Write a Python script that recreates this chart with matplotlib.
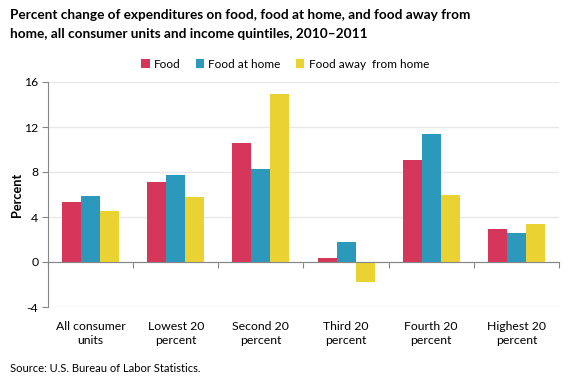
import numpy as np
import matplotlib
matplotlib.use('Agg')
import matplotlib.pyplot as plt
import matplotlib.transforms as mtransforms

plt.rcParams['font.family'] = ['Lato', 'DejaVu Sans']

categories = ['All consumer\nunits', 'Lowest 20\npercent', 'Second 20\npercent',
              'Third 20\npercent', 'Fourth 20\npercent', 'Highest 20\npercent']
series_names = ['Food', 'Food at home', 'Food away  from home']
food = [5.36, 7.14, 10.6, 0.39, 9.1, 2.96]
food_home = [5.9, 7.76, 8.3, 1.81, 11.4, 2.61]
food_away = [4.56, 5.81, 14.96, -1.81, 5.99, 3.41]
yticks = [-4, 0, 4, 8, 12, 16]

colors = ['#d6365a', '#2c98bc', '#ebd233']
axis_grey = '#868686'

fig = plt.figure(figsize=(5.8, 3.79), dpi=100)
ax = fig.add_axes([48 / 580, 1 - 307 / 379, 511 / 580, 225 / 379])

x = np.arange(len(categories))
w = 0.223
for i, vals in enumerate([food, food_home, food_away]):
    ax.bar(x + (i - 1) * w, vals, width=w, color=colors[i], label=series_names[i], zorder=3)

ax.set_xlim(-0.5, len(categories) - 0.5)
ax.set_ylim(-4, 16)
ax.set_yticks(yticks)
ax.set_yticklabels([str(t) for t in yticks], fontsize=8.8)
ax.grid(axis='y', color='#e8e8e8', lw=1, zorder=0)

for s in ['top', 'right']:
    ax.spines[s].set_visible(False)
ax.spines['left'].set_color(axis_grey)
ax.spines['bottom'].set_position(('data', 0))
ax.spines['bottom'].set_color(axis_grey)
ax.spines['bottom'].set_zorder(4)
ax.set_xticks(np.arange(len(categories) + 1) - 0.5)
ax.set_xticklabels([])
ax.tick_params(axis='x', length=4, color=axis_grey)
ax.tick_params(axis='y', length=4, color=axis_grey, pad=3)

trans = mtransforms.blended_transform_factory(ax.transData, ax.transAxes)
for xi, lab in zip(x, categories):
    ax.text(xi, -0.06, lab, transform=trans, ha='center', va='top', fontsize=8.8,
            linespacing=1.4)

ax.set_ylabel('Percent', fontsize=9.2, fontweight='bold', labelpad=1)

fig.text(10 / 580, 1 - 9 / 379,
         'Percent change of expenditures on food, food at home, and food away from\n'
         'home, all consumer units and income quintiles, 2010\u20132011',
         ha='left', va='top', fontsize=9.8, fontweight='bold', linespacing=1.75)

leg = fig.legend(loc='center', bbox_to_anchor=(285 / 580, 1 - 64 / 379), ncol=3,
                 frameon=False, fontsize=8.5, handlelength=0.75, handleheight=0.75,
                 handletextpad=0.35, columnspacing=1.25)

fig.text(10 / 580, 1 - 368 / 379, 'Source: U.S. Bureau of Labor Statistics.',
         ha='left', va='center', fontsize=8)

fig.savefig('out.png', dpi=100)
